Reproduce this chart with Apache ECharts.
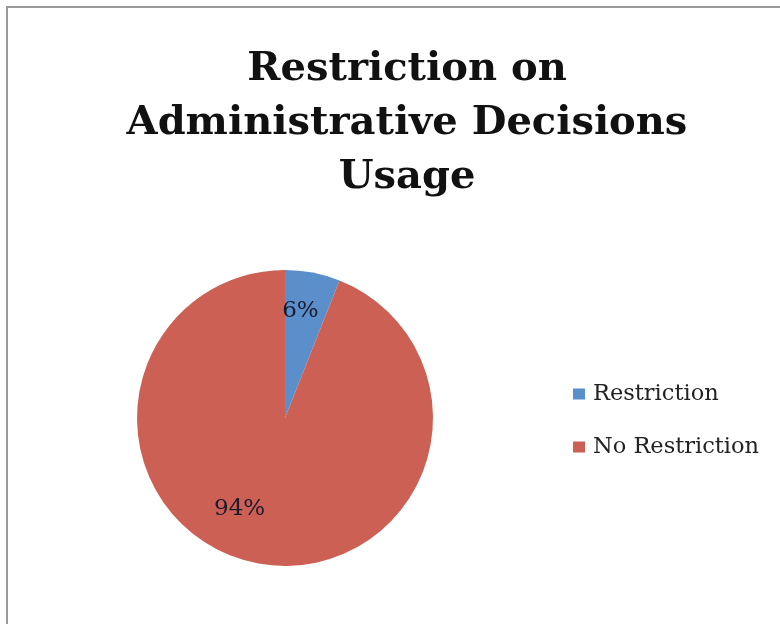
<!DOCTYPE html>
<html>
<head>
<meta charset="utf-8">
<script src="https://cdn.jsdelivr.net/npm/echarts@6/dist/echarts.min.js"></script>
<style>
  html, body { margin: 0; padding: 0; background: #fff; }
  #chart { width: 780px; height: 624px; }
</style>
</head>
<body>
<div id="chart"></div>
<script>
const categories = ["Restriction", "No Restriction"];
const values = [6, 94];
const colors = ["#5a8fcc", "#cc6055"];
// label nudges so they sit where the original put them
const labelShift = [[1, -31], [-31, 15]];

const myChart = echarts.init(document.getElementById("chart"));

const option = {
  animation: false,
  title: {
    text: "Restriction on\nAdministrative Decisions\nUsage",
    left: 402,
    top: 38,
    textAlign: "center",
    textStyle: {
      fontFamily: "DejaVu Serif",
      fontWeight: "bold",
      fontSize: 40,
      lineHeight: 54,
      color: "#111"
    }
  },
  legend: {
    orient: "vertical",
    left: 568,
    top: 376,
    itemWidth: 12,
    itemHeight: 11,
    itemGap: 27,
    icon: "rect",
    data: categories,
    textStyle: {
      fontFamily: "DejaVu Serif",
      fontSize: 22.5,
      lineHeight: 26,
      color: "#222",
      padding: [0, 0, 0, 3]
    }
  },
  graphic: [
    {
      type: "rect",
      shape: { x: 7, y: 7, width: 820, height: 700 },
      style: { fill: "none", stroke: "#9a9a9a", lineWidth: 2 }
    }
  ],
  series: [
    {
      type: "pie",
      center: [285, 418],
      radius: [0, 148],
      startAngle: 90,
      clockwise: true,
      label: {
        show: true,
        position: "inside",
        formatter: "{d}%",
        fontFamily: "DejaVu Serif",
        fontSize: 23,
        color: "#1a1a2a"
      },
      labelLayout: function (params) {
        const s = labelShift[params.dataIndex];
        return { dx: s[0], dy: s[1] };
      },
      emphasis: { disabled: true },
      data: categories.map((name, i) => ({
        name: name,
        value: values[i],
        itemStyle: { color: colors[i] }
      }))
    }
  ]
};

myChart.setOption(option);
</script>
</body>
</html>
